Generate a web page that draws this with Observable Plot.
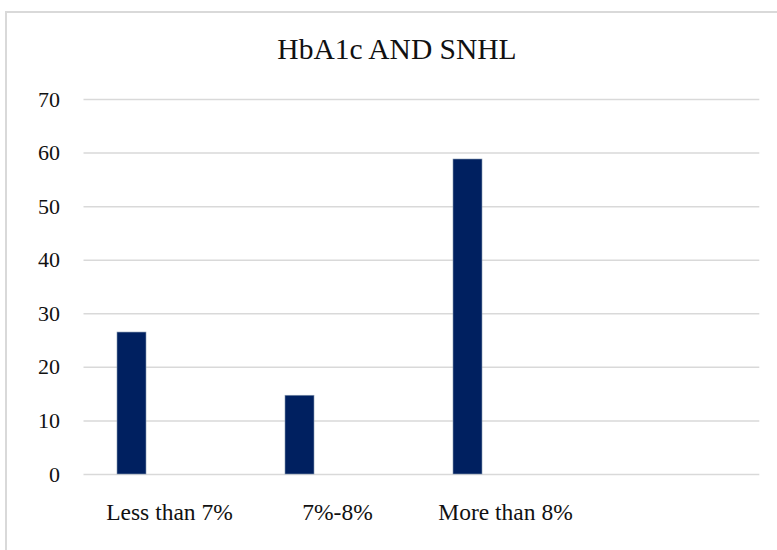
<!DOCTYPE html>
<html>
<head>
<meta charset="utf-8">
<script src="https://cdn.jsdelivr.net/npm/d3@7"></script>
<script src="https://cdn.jsdelivr.net/npm/@observablehq/plot@0.6"></script>
<style>
  html, body { margin: 0; padding: 0; background: #fff; width: 777px; height: 550px; overflow: hidden; }
  #frame { position: absolute; left: 5px; top: 11px; width: 800px; height: 560px;
           border-left: 2px solid #d9d9d9; border-top: 2px solid #d9d9d9; }
  #title { position: absolute; left: 0; top: 35px; width: 794px; text-align: center;
           font-family: "Liberation Serif", "Tinos", "Times New Roman", "DejaVu Serif", serif; font-size: 29.5px; line-height: 29.5px; color: #111; }
  #chart { position: absolute; left: 0; top: 70px; }
  #chart svg text { font-family: "Liberation Serif", "Tinos", "Times New Roman", "DejaVu Serif", serif; }
</style>
</head>
<body>
<div id="frame"></div>
<div id="title">HbA1c AND SNHL</div>
<div id="chart"></div>
<script>
const title = "HbA1c AND SNHL";
const categories = ["Less than 7%", "7%-8%", "More than 8%", ""];
const values = [26.5, 14.7, 58.8];
const yTicks = [0, 10, 20, 30, 40, 50, 60, 70];

const data = values.map((v, i) => ({category: categories[i], value: v}));

const chart = Plot.plot({
  width: 777,
  height: 480,
  marginTop: 29,
  marginBottom: 76,
  marginLeft: 83.5,
  marginRight: 17.7,
  style: {fontSize: "22px", color: "#111", background: "transparent"},
  x: {type: "band", domain: categories, padding: 0, label: null},
  y: {domain: [0, 70], label: null},
  marks: [
    Plot.gridY(yTicks, {stroke: "#d9d9d9", strokeOpacity: 1, strokeWidth: 1.5}),
    Plot.barY(data, {x: "category", y: "value", fill: "#002060", stroke: "#8497b0", strokeWidth: 0.6,
                     insetLeft: 69.5, insetRight: 69.5, dx: -37.5}),
    Plot.axisY(yTicks, {tickSize: 0, tickPadding: 24, fontSize: 22, label: null}),
    Plot.axisX({tickSize: 0, tickPadding: 29.3, fontSize: 23.5, label: null})
  ]
});
document.getElementById("chart").appendChild(chart);
</script>
</body>
</html>
